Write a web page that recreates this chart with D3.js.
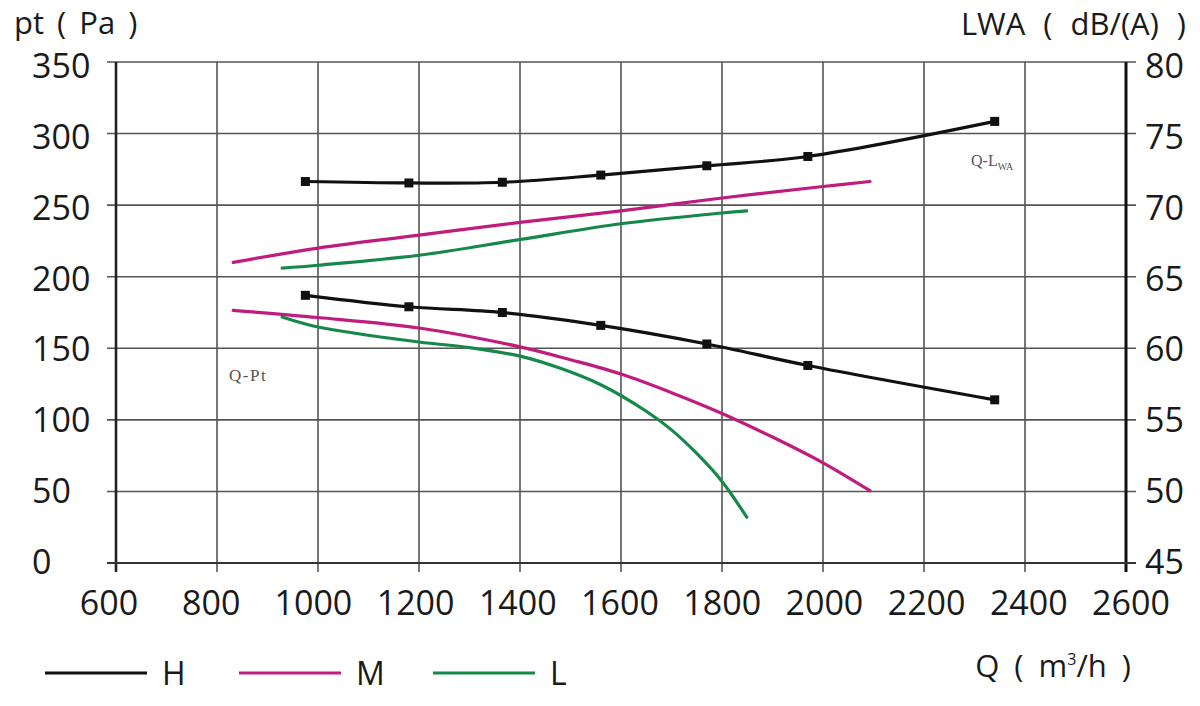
<!DOCTYPE html>
<html lang="en">
  <head>
    <meta charset="utf-8" />
    <script src="https://d3js.org/d3.v7.min.js"></script>
    <style>
      body { margin: 0; background: #fff; }
      text { font-family: "Open Sans", "DejaVu Sans", sans-serif; fill: #1a1a1a; }
    </style>
  </head>
  <body>
    <script type="text/javascript">

      // chart data
      var xTicks = [600, 800, 1000, 1200, 1400, 1600, 1800, 2000, 2200, 2400, 2600];
      var leftTicks = [0, 50, 100, 150, 200, 250, 300, 350];
      var rightTicks = [45, 50, 55, 60, 65, 70, 75, 80];

      // Q-Pt curves (left axis, Pa)
      var hPtQ = [975, 1180, 1365, 1560, 1770, 1970, 2340];
      var hPt = [187, 179, 175, 166, 153, 138, 114];
      var mPtQ = [832, 1000, 1200, 1400, 1500, 1600, 1700, 1800, 1900, 2000, 2093];
      var mPt = [176.5, 171.5, 164.2, 151, 142, 132, 119, 104.5, 88, 70, 50.5];
      var lPtQ = [929, 1000, 1200, 1300, 1400, 1480, 1560, 1650, 1700, 1750, 1800, 1849];
      var lPt = [171.9, 164.9, 154.4, 150.5, 144.5, 136, 124.5, 106, 93, 76.5, 57, 32];

      // Q-LWA curves (right axis, dB(A))
      var hLwQ = [975, 1180, 1365, 1560, 1770, 1970, 2340];
      var hLw = [71.65, 71.55, 71.6, 72.1, 72.75, 73.4, 75.85];
      var mLwQ = [832, 1000, 1200, 1400, 1600, 1800, 2000, 2093];
      var mLw = [66.0, 67.0, 67.9, 68.8, 69.6, 70.5, 71.3, 71.65];
      var lLwQ = [929, 1000, 1200, 1400, 1600, 1800, 1849];
      var lLw = [65.6, 65.8, 66.5, 67.6, 68.7, 69.45, 69.6];

      var legendNames = ["H", "M", "L"];
      var colors = {H: "#111111", M: "#c01c7e", L: "#16884a"};

      // svg sizes
      var w = 1200;
      var h = 706;
      var leftChart = 116;
      var rightChart = 1126;
      var topChart = 62;
      var bottomChart = 563;

      var svg = d3.select("body")
                  .append("svg")
                  .attr("width", w)
                  .attr("height", h);

      // scales (labels in the picture are spread a bit wider than the grid)
      var xScale = d3.scaleLinear().domain([600, 2600]).range([leftChart, rightChart]);
      var yLeft = d3.scaleLinear().domain([0, 350]).range([bottomChart, topChart]);
      var yRight = d3.scaleLinear().domain([45, 80]).range([bottomChart, topChart]);
      var xLabelScale = d3.scaleLinear().domain([600, 2600]).range([109, 1131]);
      var yLabelLeft = d3.scaleLinear().domain([0, 350]).range([574, 78]);
      var yLabelRight = d3.scaleLinear().domain([45, 80]).range([574, 78]);

      // grid lines
      var grid = svg.append("g");
      grid.selectAll(".vgrid")
          .data(xTicks)
          .enter()
          .append("line")
          .attr("x1", function(d) { return xScale(d); })
          .attr("x2", function(d) { return xScale(d); })
          .attr("y1", topChart)
          .attr("y2", bottomChart + 9)
          .attr("stroke", "#555")
          .attr("stroke-width", 1.6);
      grid.selectAll(".hgrid")
          .data(leftTicks)
          .enter()
          .append("line")
          .attr("x1", leftChart - 9)
          .attr("x2", rightChart + 10)
          .attr("y1", function(d) { return yLeft(d); })
          .attr("y2", function(d) { return yLeft(d); })
          .attr("stroke", "#555")
          .attr("stroke-width", 1.6);

      // frame sides
      svg.append("line")
         .attr("x1", leftChart).attr("x2", leftChart)
         .attr("y1", topChart).attr("y2", bottomChart + 9)
         .attr("stroke", "#222").attr("stroke-width", 2.6);
      svg.append("line")
         .attr("x1", rightChart).attr("x2", rightChart)
         .attr("y1", topChart).attr("y2", bottomChart + 9)
         .attr("stroke", "#111").attr("stroke-width", 3);
      svg.append("line")
         .attr("x1", leftChart - 9).attr("x2", rightChart + 10)
         .attr("y1", bottomChart).attr("y2", bottomChart)
         .attr("stroke", "#333").attr("stroke-width", 2.2);

      // tick labels
      svg.selectAll(".xlab")
         .data(xTicks)
         .enter()
         .append("text")
         .attr("x", function(d) { return xLabelScale(d); })
         .attr("y", 615)
         .attr("text-anchor", "middle")
         .style("font-size", "34px")
         .text(function(d) { return d; });

      svg.selectAll(".ylab")
         .data(leftTicks)
         .enter()
         .append("text")
         .attr("x", 32)
         .attr("y", function(d) { return yLabelLeft(d); })
         .style("font-size", "34px")
         .text(function(d) { return d; });

      svg.selectAll(".rlab")
         .data(rightTicks)
         .enter()
         .append("text")
         .attr("x", 1145)
         .attr("y", function(d) { return yLabelRight(d); })
         .style("font-size", "34px")
         .text(function(d) { return d; });

      // axis titles
      svg.append("text")
         .attr("x", 14).attr("y", 34)
         .style("font-size", "31px")
         .style("word-spacing", "5px")
         .text("pt ( Pa )");
      svg.append("text")
         .attr("x", 1186).attr("y", 35)
         .attr("text-anchor", "end")
         .style("font-size", "31px")
         .style("word-spacing", "10px")
         .text("LWA ( dB/(A) )");
      var qLabel = svg.append("text")
         .attr("x", 1131).attr("y", 677)
         .attr("text-anchor", "end")
         .style("font-size", "31px")
         .style("word-spacing", "7px");
      qLabel.append("tspan").text("Q ( m");
      qLabel.append("tspan").attr("dy", -12).style("font-size", "16px").text("3");
      qLabel.append("tspan").attr("dy", 12).text("/h )");

      // curve annotations
      svg.append("text")
         .attr("x", 229).attr("y", 381)
         .style("font-family", "'Liberation Serif', serif")
         .style("font-size", "17px")
         .style("letter-spacing", "1.5px")
         .style("fill", "#555")
         .text("Q-Pt");
      var qlwa = svg.append("text")
         .attr("x", 971).attr("y", 166)
         .style("font-family", "'Liberation Serif', serif")
         .style("font-size", "16px")
         .style("fill", "#555");
      qlwa.append("tspan").text("Q-L");
      qlwa.append("tspan").attr("dy", 4).style("font-size", "10px").text("WA");

      // draw a curve
      function drawCurve(qs, vs, yScale, color) {
        var pts = qs.map(function(q, i) { return [q, vs[i]]; });
        var line = d3.line()
                     .x(function(d) { return xScale(d[0]); })
                     .y(function(d) { return yScale(d[1]); })
                     .curve(d3.curveCatmullRom.alpha(0.5));
        svg.append("path")
           .datum(pts)
           .attr("d", line)
           .attr("fill", "none")
           .attr("stroke", color)
           .attr("stroke-width", 3.2)
           .attr("stroke-linecap", "round");
        return pts;
      }

      function drawMarkers(pts, yScale) {
        svg.selectAll(null)
           .data(pts)
           .enter()
           .append("rect")
           .attr("x", function(d) { return xScale(d[0]) - 4.5; })
           .attr("y", function(d) { return yScale(d[1]) - 4.5; })
           .attr("width", 9)
           .attr("height", 9)
           .attr("fill", "#111");
      }

      drawCurve(mLwQ, mLw, yRight, colors.M);
      drawCurve(lLwQ, lLw, yRight, colors.L);
      drawCurve(mPtQ, mPt, yLeft, colors.M);
      drawCurve(lPtQ, lPt, yLeft, colors.L);
      var hl = drawCurve(hLwQ, hLw, yRight, colors.H);
      var hp = drawCurve(hPtQ, hPt, yLeft, colors.H);
      drawMarkers(hl, yRight);
      drawMarkers(hp, yLeft);

      // legend
      var legend = svg.selectAll(".legend")
                      .data(legendNames)
                      .enter()
                      .append("g")
                      .attr("transform", function(d, i) {
                        return "translate(" + (45 + i * 194) + ",673)";
                      });
      legend.append("line")
            .attr("x1", 0).attr("x2", 102)
            .attr("y1", 0).attr("y2", 0)
            .attr("stroke", function(d) { return colors[d]; })
            .attr("stroke-width", 3.2);
      legend.append("text")
            .attr("x", 117).attr("y", 12)
            .style("font-size", "32px")
            .text(function(d) { return d; });

    </script>
  </body>
</html>
